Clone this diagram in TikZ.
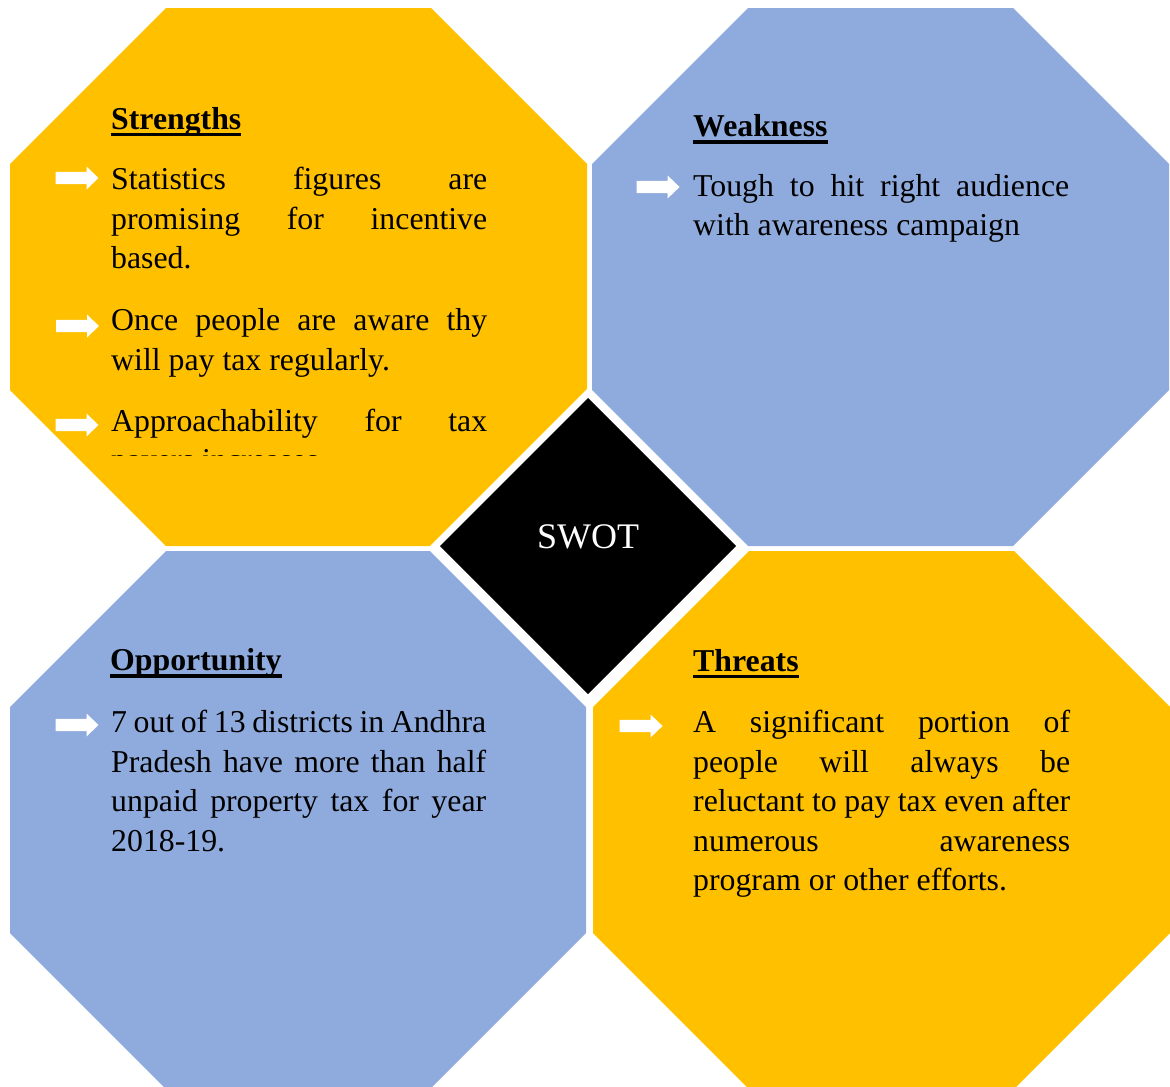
\documentclass[tikz,border=0pt]{standalone}
\usepackage{fontspec}
\setmainfont{Liberation Serif}

\definecolor{swotyellow}{HTML}{FFC000}
\definecolor{swotblue}{HTML}{8FAADC}

% width of the current justified block
\newlength\linew
% a justified line: inter-word spaces share the slack equally
\newcommand\jl[1]{\hbox to \linew{\spaceskip=0.25em plus 1fil minus 0.06em\relax #1}}
% last line of a paragraph, natural width
\newcommand\nl[1]{\hbox{#1}}
% a block of lines whose reference point is the first baseline
\newcommand\para[2]{\vtop{\setlength\linew{#1}\baselineskip=39.6pt\relax #2}}
% bold heading with a heavy underline
\newcommand\ulhead[1]{\setbox0=\hbox{#1}\rlap{\rule[-7pt]{\wd0}{3.4pt}}\box0}
% octagon: x1, y1, x2, y2, colour (corner cut 156)
\newcommand\octo[5]{\fill[#5] (#1+156,#2) -- (#3-156,#2) -- (#3,#2+156) -- (#3,#4-156)
  -- (#3-156,#4) -- (#1+156,#4) -- (#1,#4-156) -- (#1,#2+156) -- cycle;}

\tikzset{
  body/.style={inner sep=0pt, anchor=base west, font=\fontsize{31.8}{39.6}\selectfont},
  head/.style={inner sep=0pt, anchor=base west, font=\fontsize{31.8}{39.6}\selectfont\bfseries},
  warrow/.pic={\fill[white] (0,-6.2) -- (31,-6.2) -- (31,-11.5) -- (43,0) -- (31,11.5) -- (31,6.2) -- (0,6.2) -- cycle;}
}

\begin{document}
\begin{tikzpicture}[x=1pt,y=-1pt]
\clip (0,0) rectangle (1170,1087);

% the four quadrants
\octo{10}{8}{587}{546}{swotyellow}
\octo{592}{8}{1169}{546}{swotblue}
\octo{10}{551}{586}{1089}{swotblue}
\octo{593}{551}{1170}{1089}{swotyellow}

% centre diamond with white rim
\fill[white] (588,388) -- (746,546) -- (588,704) -- (430,546) -- cycle;
\fill[black] (588,398) -- (736,546) -- (588,694) -- (440,546) -- cycle;
\node[inner sep=0pt, anchor=base, text=white, font=\fontsize{36}{40}\selectfont] (swot) at (588,548) {SWOT};

% Strengths
\node[head] (sh) at (111,129) {\ulhead{Strengths}};
\pic at (55.5,178) {warrow};
\node[body] (s1) at (111,189.5) {\para{376pt}{\jl{Statistics figures are}\jl{promising for incentive}\nl{based.}}};
\pic at (56,326) {warrow};
\node[body] (s2) at (111,330.5) {\para{376pt}{\jl{Once people are aware thy}\nl{will pay tax regularly.}}};
\pic at (55.5,425) {warrow};
\begin{scope}
  \clip (0,0) rectangle (600,455.5);
  \node[body] (s3) at (111,431) {\para{376pt}{\jl{Approachability for tax}\nl{payers increases}}};
\end{scope}

% Weakness
\node[head] (wh) at (693,136.5) {\ulhead{Weakness}};
\pic at (636.6,187) {warrow};
\node[body] (w1) at (693,196) {\para{376pt}{\jl{Tough to hit right audience}\nl{with awareness campaign}}};

% Opportunity
\node[head] (oh) at (110,670.5) {\ulhead{Opportunity}};
\pic at (55.5,725) {warrow};
\node[body] (o1) at (111,732.5) {\para{375pt}{\jl{7 out of 13 districts in Andhra}\jl{Pradesh have more than half}\jl{unpaid property tax for year}\nl{2018-19.}}};

% Threats
\node[head] (th) at (693,671) {\ulhead{Threats}};
\pic at (619.6,726) {warrow};
\node[body] (t1) at (693,732.5) {\para{377pt}{\jl{A significant portion of}\jl{people will always be}\jl{reluctant to pay tax even after}\jl{numerous awareness}\nl{program or other efforts.}}};
\end{tikzpicture}
\end{document}
